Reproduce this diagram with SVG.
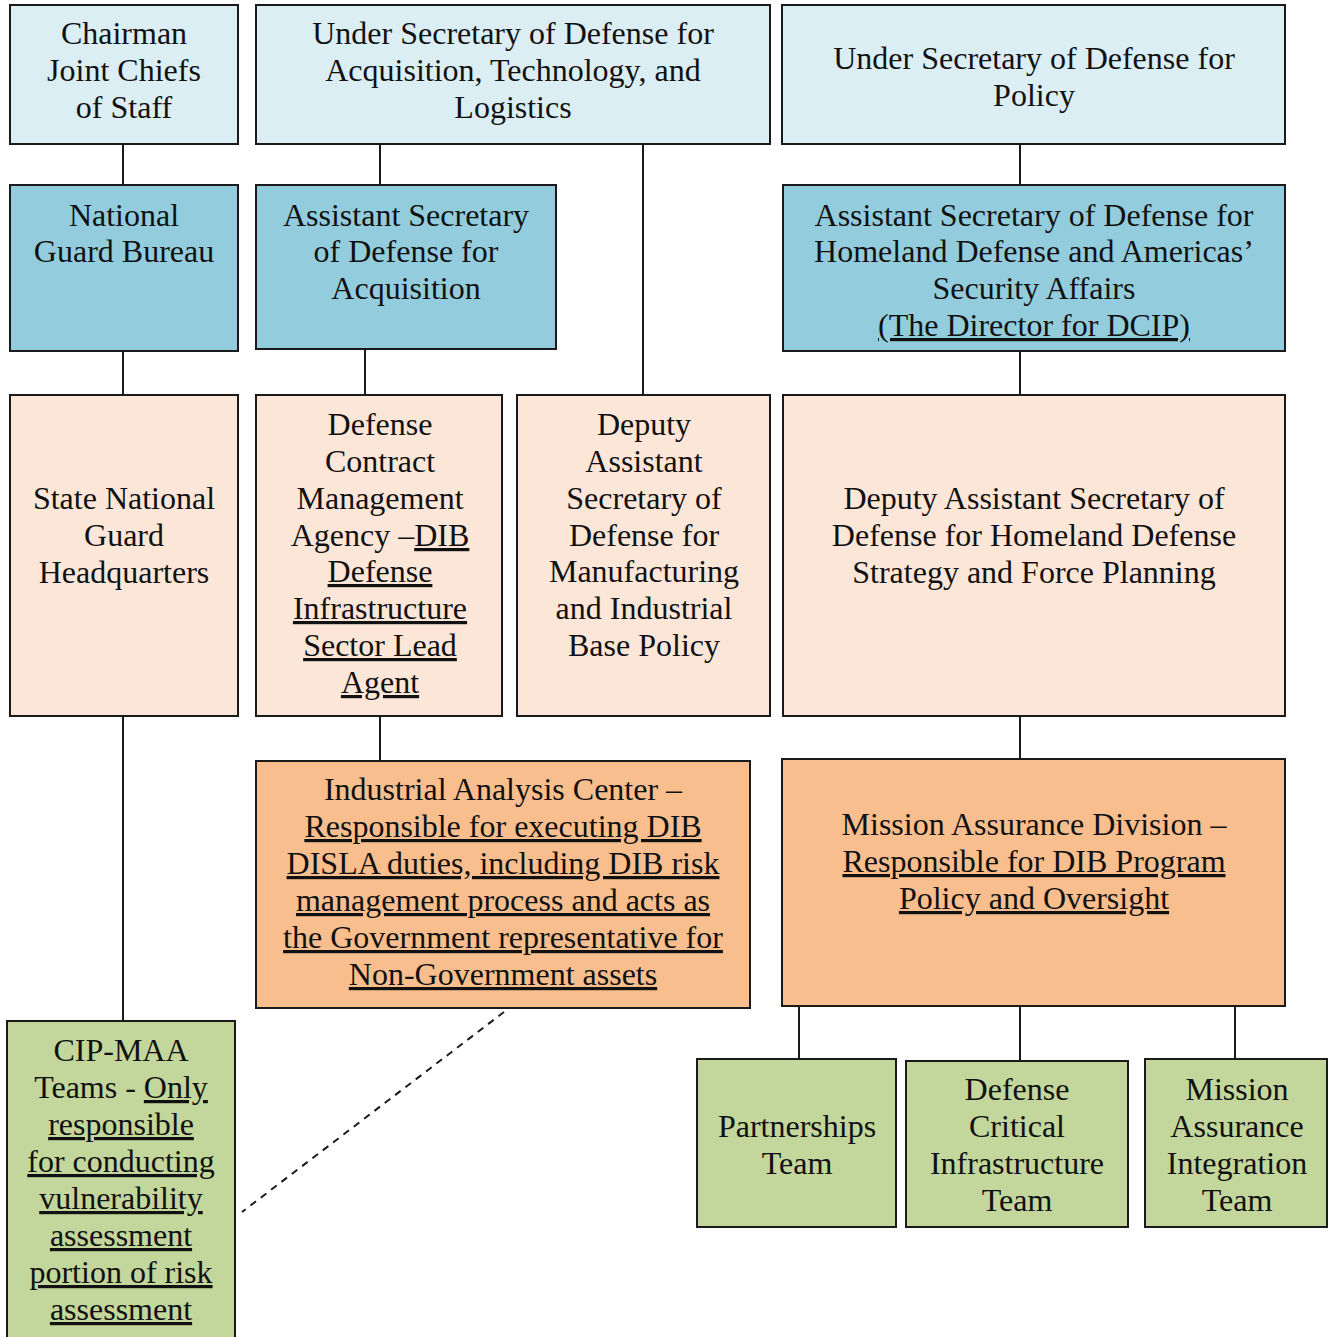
<svg xmlns="http://www.w3.org/2000/svg" width="1328" height="1337" viewBox="0 0 1328 1337">
<style>
.b{stroke:#1a1a1a;stroke-width:2}
.l1{fill:#DBEEF4}
.l2{fill:#93CDDD}
.l3{fill:#FCE6D8}
.l4{fill:#F9BE8D}
.l5{fill:#C3D69B}
text{font-family:"Liberation Serif","Times New Roman",serif;font-size:32px;fill:#111;text-anchor:middle}
.u{text-decoration:underline}
.c line{stroke:#1a1a1a;stroke-width:2}
</style>
<rect width="1328" height="1337" fill="#fff"/>
<g class="c" id="connectors">
<line x1="123" y1="144" x2="123" y2="185"/>
<line x1="380" y1="144" x2="380" y2="185"/>
<line x1="643" y1="144" x2="643" y2="395"/>
<line x1="1020" y1="144" x2="1020" y2="185"/>
<line x1="123" y1="351" x2="123" y2="395"/>
<line x1="365" y1="349" x2="365" y2="395"/>
<line x1="1020" y1="351" x2="1020" y2="395"/>
<line x1="123" y1="716" x2="123" y2="1021"/>
<line x1="380" y1="716" x2="380" y2="761"/>
<line x1="1020" y1="716" x2="1020" y2="759"/>
<line x1="799" y1="1006" x2="799" y2="1059"/>
<line x1="1020" y1="1006" x2="1020" y2="1061"/>
<line x1="1235" y1="1006" x2="1235" y2="1059"/>
<line x1="504" y1="1012" x2="242" y2="1212" stroke-dasharray="7,6"/>
</g>
<g id="cjcs"><rect class="b l1" x="10" y="5" width="228" height="139"/>
<text x="124" y="44">Chairman</text><text x="124" y="81">Joint Chiefs</text><text x="124" y="118">of Staff</text></g>
<g id="usd-atl"><rect class="b l1" x="256" y="5" width="514" height="139"/>
<text x="513" y="44">Under Secretary of Defense for</text><text x="513" y="81">Acquisition, Technology, and</text><text x="513" y="118">Logistics</text></g>
<g id="usd-p"><rect class="b l1" x="782" y="5" width="503" height="139"/>
<text x="1034" y="69">Under Secretary of Defense for</text><text x="1034" y="106">Policy</text></g>
<g id="ngb"><rect class="b l2" x="10" y="185" width="228" height="166"/>
<text x="124" y="226">National</text><text x="124" y="262">Guard Bureau</text></g>
<g id="asd-a"><rect class="b l2" x="256" y="185" width="300" height="164"/>
<text x="406" y="226">Assistant Secretary</text><text x="406" y="262">of Defense for</text><text x="406" y="299">Acquisition</text></g>
<g id="asd-hd"><rect class="b l2" x="783" y="185" width="502" height="166"/>
<text x="1034" y="226">Assistant Secretary of Defense for</text><text x="1034" y="262">Homeland Defense and Americas’</text><text x="1034" y="299">Security Affairs</text><text x="1034" y="336" class="u">(The Director for DCIP)</text></g>
<g id="sngh"><rect class="b l3" x="10" y="395" width="228" height="321"/>
<text x="124" y="509">State National</text><text x="124" y="546">Guard</text><text x="124" y="583">Headquarters</text></g>
<g id="dcma"><rect class="b l3" x="256" y="395" width="246" height="321"/>
<text x="380" y="435">Defense</text><text x="380" y="472">Contract</text><text x="380" y="509">Management</text>
<text x="380" y="546">Agency –<tspan class="u">DIB</tspan></text>
<text x="380" y="582" class="u">Defense</text><text x="380" y="619" class="u">Infrastructure</text><text x="380" y="656" class="u">Sector Lead</text><text x="380" y="693" class="u">Agent</text></g>
<g id="dasd-mibp"><rect class="b l3" x="517" y="395" width="253" height="321"/>
<text x="644" y="435">Deputy</text><text x="644" y="472">Assistant</text><text x="644" y="509">Secretary of</text><text x="644" y="546">Defense for</text><text x="644" y="582">Manufacturing</text><text x="644" y="619">and Industrial</text><text x="644" y="656">Base Policy</text></g>
<g id="dasd-hd"><rect class="b l3" x="783" y="395" width="502" height="321"/>
<text x="1034" y="509">Deputy Assistant Secretary of</text><text x="1034" y="546">Defense for Homeland Defense</text><text x="1034" y="583">Strategy and Force Planning</text></g>
<g id="iac"><rect class="b l4" x="256" y="761" width="494" height="247"/>
<text x="503" y="800">Industrial Analysis Center –</text>
<text x="503" y="837" class="u">Responsible for executing DIB</text>
<text x="503" y="874" class="u">DISLA duties, including DIB risk</text>
<text x="503" y="911" class="u">management process and acts as</text>
<text x="503" y="948" class="u">the Government representative for</text>
<text x="503" y="985" class="u">Non-Government assets</text></g>
<g id="mad"><rect class="b l4" x="782" y="759" width="503" height="247"/>
<text x="1034" y="835">Mission Assurance Division –</text>
<text x="1034" y="872" class="u">Responsible for DIB Program</text>
<text x="1034" y="909" class="u">Policy and Oversight</text></g>
<g id="cip"><rect class="b l5" x="7" y="1021" width="228" height="330"/>
<text x="121" y="1061">CIP-MAA</text>
<text x="121" y="1098">Teams - <tspan class="u">Only</tspan></text>
<text x="121" y="1135" class="u">responsible</text>
<text x="121" y="1172" class="u">for conducting</text>
<text x="121" y="1209" class="u">vulnerability</text>
<text x="121" y="1246" class="u">assessment</text>
<text x="121" y="1283" class="u">portion of risk</text>
<text x="121" y="1320" class="u">assessment</text></g>
<g id="pt"><rect class="b l5" x="697" y="1059" width="199" height="168"/>
<text x="797" y="1137">Partnerships</text><text x="797" y="1174">Team</text></g>
<g id="dcit"><rect class="b l5" x="906" y="1061" width="222" height="166"/>
<text x="1017" y="1100">Defense</text><text x="1017" y="1137">Critical</text><text x="1017" y="1174">Infrastructure</text><text x="1017" y="1211">Team</text></g>
<g id="mait"><rect class="b l5" x="1145" y="1059" width="182" height="168"/>
<text x="1237" y="1100">Mission</text><text x="1237" y="1137">Assurance</text><text x="1237" y="1174">Integration</text><text x="1237" y="1211">Team</text></g>
</svg>
